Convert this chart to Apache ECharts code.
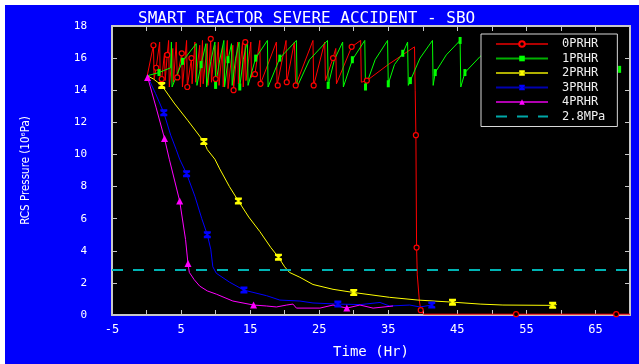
<!DOCTYPE html>
<html>
<head>
<meta charset="utf-8">
<script src="https://cdn.jsdelivr.net/npm/echarts@6/dist/echarts.min.js"></script>
<style>
  html, body { margin: 0; padding: 0; background: #fff; }
  #bg { position: absolute; left: 5px; top: 5px; width: 634px; height: 359px; background: #0000fc; }
  #chart { position: absolute; left: 0; top: 0; width: 639px; height: 364px; }
</style>
</head>
<body>
<div id="bg"></div>
<div id="chart"></div>
<script>
// [time (hr), pressure (MPa), marker?]
const prhr0 = [
  [0.1, 14.9, 0], [1.0, 16.8, 1], [1.1, 14.7, 0], [1.4, 15.4, 1], [1.9, 17.0, 0], [2.0, 14.3, 0],
  [2.2, 14.7, 1], [2.6, 16.3, 0], [2.7, 14.6, 0], [3.0, 16.2, 1], [3.2, 17.1, 0], [3.3, 14.2, 0],
  [3.8, 16.6, 0], [3.9, 14.5, 0], [4.3, 17.0, 0], [4.45, 14.8, 1], [5.1, 16.3, 1], [5.2, 14.2, 0],
  [5.8, 17.1, 0], [5.9, 14.2, 1], [6.5, 16.0, 1], [6.6, 14.4, 0], [7.0, 17.0, 0], [7.1, 14.5, 0],
  [7.7, 16.8, 0], [7.8, 14.2, 0], [8.1, 17.1, 0], [8.2, 14.4, 0], [8.8, 16.9, 0], [8.9, 14.3, 0],
  [9.3, 17.2, 1], [9.4, 14.5, 0], [9.9, 16.8, 0], [10.0, 14.7, 1], [10.4, 17.0, 0], [10.5, 14.3, 0],
  [11.0, 16.7, 0], [11.1, 14.2, 0], [11.7, 17.1, 0], [11.8, 14.1, 0], [12.5, 16.8, 0], [12.6, 14.0, 1],
  [13.2, 17.0, 0], [13.3, 14.4, 0], [13.9, 17.0, 0], [14.0, 14.2, 0], [14.3, 17.0, 1], [14.4, 14.6, 0],
  [15.1, 17.0, 0], [15.2, 14.8, 0], [15.7, 15.0, 1], [16.4, 17.1, 0], [16.5, 14.4, 1], [18.8, 17.0, 0],
  [18.9, 14.3, 0], [19.0, 14.3, 1], [20.2, 17.1, 0], [20.3, 14.5, 1], [21.4, 17.0, 0], [21.6, 14.3, 1],
  [24.1, 17.1, 0], [24.2, 14.3, 1], [25.8, 17.0, 0], [25.9, 14.6, 0], [27.0, 16.0, 1], [27.4, 16.6, 0],
  [27.5, 14.4, 0], [29.7, 16.7, 1], [31.0, 17.1, 0], [31.1, 14.5, 0], [31.9, 14.6, 1], [35.0, 15.6, 0],
  [38.8, 16.7, 0], [38.9, 14.0, 0], [39.0, 11.2, 1], [39.1, 4.2, 1], [39.2, 2.5, 0], [39.5, 0.9, 0],
  [39.7, 0.3, 1], [40.1, 0.05, 0], [53.5, 0.05, 1], [68.0, 0.05, 1], [70.0, 0.05, 0]
];
const prhr1 = [
  [0.1, 14.9, 0], [1.8, 15.1, 1], [3.5, 15.4, 0], [3.6, 17.0, 0], [3.7, 14.2, 0], [5.2, 15.8, 1],
  [7.2, 16.9, 0], [7.3, 14.3, 0], [7.9, 15.6, 1], [8.6, 16.9, 0], [8.7, 14.2, 0], [9.3, 15.8, 0],
  [9.9, 17.0, 0], [10.0, 14.3, 1], [10.6, 15.9, 0], [11.2, 17.1, 0], [11.3, 14.2, 0], [11.8, 15.9, 1],
  [12.3, 16.9, 0], [12.4, 14.3, 0], [12.9, 16.0, 0], [13.4, 17.0, 0], [13.5, 14.2, 1], [14.0, 15.9, 0],
  [14.6, 17.1, 0], [14.7, 14.3, 0], [15.8, 16.0, 1], [17.5, 17.1, 0], [17.6, 14.2, 0], [19.3, 16.0, 1],
  [21.7, 17.1, 0], [21.8, 14.2, 0], [23.6, 15.9, 0], [26.2, 17.1, 0], [26.3, 14.3, 1], [27.2, 15.9, 0],
  [28.4, 17.0, 0], [28.5, 14.2, 0], [29.8, 15.9, 1], [31.6, 17.1, 0], [31.7, 14.2, 1], [33.1, 15.9, 0],
  [34.9, 17.1, 0], [35.0, 14.4, 1], [35.9, 15.6, 0], [37.1, 16.3, 1], [37.8, 17.0, 0], [37.9, 14.3, 0],
  [38.2, 14.6, 1], [39.6, 16.0, 0], [41.4, 17.1, 0], [41.5, 14.3, 0], [41.8, 15.1, 1], [43.4, 16.2, 0],
  [45.4, 17.1, 1], [45.5, 14.2, 0], [46.1, 15.1, 1], [48.3, 16.1, 0], [50.5, 17.0, 0], [50.6, 14.3, 0],
  [53.0, 16.0, 0], [55.8, 17.0, 0], [55.9, 14.3, 0], [58.3, 16.0, 0], [61.0, 17.0, 0], [61.1, 14.3, 0],
  [63.2, 15.8, 0], [65.8, 17.0, 0], [65.9, 14.3, 0], [68.5, 15.3, 1]
];
const prhr2 = [
  [0.1, 14.9, 0], [1.0, 14.7, 0], [2.2, 14.3, 1], [4.0, 13.2, 0], [6.0, 12.1, 0], [8.3, 10.8, 1],
  [8.8, 10.3, 0], [9.9, 9.7, 0], [10.6, 9.1, 0], [12.0, 8.0, 0], [13.3, 7.1, 1], [14.8, 6.1, 0],
  [16.4, 5.2, 0], [18.0, 4.2, 0], [19.1, 3.6, 1], [20.0, 3.0, 0], [20.7, 2.65, 0], [22.2, 2.35, 0],
  [24.1, 1.9, 0], [27.0, 1.6, 0], [30.0, 1.4, 1], [35.2, 1.1, 0], [39.3, 0.93, 0], [44.3, 0.8, 1],
  [48.3, 0.68, 0], [51.6, 0.62, 0], [58.8, 0.6, 1], [59.4, 0.65, 0]
];
const prhr3 = [
  [0.1, 14.9, 0], [1.3, 13.8, 0], [2.5, 12.6, 1], [3.5, 11.2, 0], [4.3, 10.3, 0], [4.8, 9.7, 0],
  [5.8, 8.8, 1], [7.0, 7.4, 0], [8.0, 6.0, 0], [8.8, 5.0, 1], [9.3, 4.1, 0], [9.6, 3.0, 0],
  [10.1, 2.6, 0], [12.0, 2.05, 0], [14.1, 1.55, 1], [17.4, 1.2, 0], [19.3, 0.93, 0], [22.2, 0.87, 0],
  [24.1, 0.75, 0], [27.7, 0.68, 1], [31.0, 0.65, 0], [33.8, 0.78, 0], [35.2, 0.56, 0], [38.1, 0.62, 0],
  [39.6, 0.5, 0], [41.3, 0.62, 1]
];
const prhr4 = [
  [0.1, 14.9, 0], [0.15, 14.8, 1], [1.4, 12.9, 0], [2.6, 11.0, 1], [3.3, 9.7, 0], [4.8, 7.1, 1],
  [5.65, 4.7, 0], [6.0, 3.2, 1], [6.2, 2.65, 0], [6.9, 2.2, 0], [7.7, 1.8, 0], [8.8, 1.5, 0],
  [10.1, 1.3, 0], [12.5, 0.87, 0], [15.5, 0.62, 1], [17.4, 0.56, 0], [18.8, 0.5, 0], [20.3, 0.62, 0],
  [21.2, 0.68, 0], [21.7, 0.43, 0], [25.1, 0.43, 0], [27.0, 0.62, 0], [29.0, 0.43, 1], [30.9, 0.62, 0],
  [32.8, 0.43, 0], [35.7, 0.56, 0]
];
const limit28 = [[-5, 2.8], [70, 2.8]];

const names = ['0PRHR', '1PRHR', '2PRHR', '3PRHR', '4PRHR', '2.8MPa'];
const xTicks = { min: -5, max: 70, step: 5 };
const yTicks = { min: 0, max: 18, step: 2 };

const hourglass = 'path://M0,0H10V3L6,5L10,7V10H0V7L4,5L0,3Z';
const bar = 'path://M0,0H3V10H0Z';

function pts(arr, sym) {
  return arr.map((d) => ({ value: [d[0], d[1]], symbol: d[2] ? sym : 'none' }));
}

function lineSeries(name, arr, sym, size, color, extra) {
  return Object.assign({
    name: name,
    type: 'line',
    data: pts(arr, sym),
    symbol: sym,
    symbolSize: size,
    showSymbol: true,
    lineStyle: { color: color, width: 1 },
    itemStyle: { color: color },
  }, extra || {})
}

const frame = '#c8c8c8';
const axisBase = {
  type: 'value',
  axisLine: { show: true, onZero: false, lineStyle: { color: frame, width: 2 } },
  axisTick: { show: true, inside: true, length: 5, lineStyle: { color: frame } },
  splitLine: { show: false },
};

const option = {
  animation: false,
  backgroundColor: 'transparent',
  title: {
    text: 'SMART REACTOR SEVERE ACCIDENT - SBO',
    left: 133,
    top: 6,
    textStyle: { color: '#fff', fontFamily: 'DejaVu Sans Mono', fontSize: 16, fontWeight: 'normal' },
  },
  legend: {
    orient: 'vertical',
    left: 481,
    top: 34,
    padding: [4, 12, 4, 14],
    itemWidth: 52,
    itemHeight: 7,
    itemGap: 2.5,
    backgroundColor: '#000',
    borderColor: '#d8d8d8',
    borderWidth: 1,
    borderRadius: 0,
    textStyle: { color: '#f0f0f0', fontFamily: 'DejaVu Sans Mono', fontSize: 12, lineHeight: 12, padding: [0, 0, 0, 9] },
    data: [
      { name: names[0], lineStyle: { color: '#b00000' } },
      { name: names[1], lineStyle: { color: '#00b000' } },
      { name: names[2], lineStyle: { color: '#b0b000' } },
      { name: names[3], lineStyle: { color: '#0000b0' } },
      { name: names[4], lineStyle: { color: '#b000b0' } },
      { name: names[5], lineStyle: { color: '#00a8a8', width: 2 }, itemStyle: { color: 'transparent', borderWidth: 0, opacity: 0 } },
    ],
  },
  grid: {
    left: 112, right: 9, top: 26, bottom: 48,
    show: true, backgroundColor: '#000', borderWidth: 0,
  },
  xAxis: [
    Object.assign({}, axisBase, {
      position: 'bottom',
      min: xTicks.min, max: xTicks.max, interval: xTicks.step,
      name: 'Time (Hr)',
      nameLocation: 'middle',
      nameGap: 30,
      nameTextStyle: { color: '#fff', fontFamily: 'DejaVu Sans Mono', fontSize: 14 },
      axisLabel: {
        color: '#fff', fontFamily: 'DejaVu Sans Mono', fontSize: 12, margin: 9,
        formatter: (v) => (Math.abs(v) % 10 === 5 ? String(v) : ''),
      },
    }),
    Object.assign({}, axisBase, {
      position: 'top',
      min: xTicks.min, max: xTicks.max, interval: xTicks.step,
      axisLabel: { show: false },
    }),
  ],
  yAxis: [
    Object.assign({}, axisBase, {
      position: 'left',
      min: yTicks.min, max: yTicks.max, interval: yTicks.step,
      name: 'RCS Pressure (10⁶Pa)',
      nameLocation: 'middle',
      nameGap: 80,
      nameTextStyle: { color: '#fff', fontFamily: 'DejaVu Sans Condensed', fontSize: 11.5 },
      axisLabel: { color: '#fff', fontFamily: 'DejaVu Sans Mono', fontSize: 11, margin: 25 },
    }),
    Object.assign({}, axisBase, {
      position: 'right',
      min: yTicks.min, max: yTicks.max, interval: yTicks.step,
      axisLabel: { show: false },
    }),
  ],
  series: [
    lineSeries(names[0], prhr0, 'circle', 5, '#ff0000', {
      itemStyle: { color: '#000', borderColor: '#ff0000', borderWidth: 1.2 },
    }),
    lineSeries(names[1], prhr1, bar, [3, 7], '#00ff00'),
    lineSeries(names[2], prhr2, hourglass, 7, '#ffff00'),
    lineSeries(names[3], prhr3, hourglass, 7, '#0000ff'),
    lineSeries(names[4], prhr4, 'triangle', 7, '#ff00ff'),
    {
      name: names[5],
      type: 'line',
      data: limit28,
      symbol: 'none',
      lineStyle: { color: '#00b4b4', width: 2, type: [11, 10] },
      itemStyle: { color: '#00b4b4' },
    },
  ],
}

const dom = document.getElementById('chart')
const chart = echarts.init(dom)
chart.setOption(option)
window.addEventListener('resize', () => chart.resize())
</script>
</body>
</html>
